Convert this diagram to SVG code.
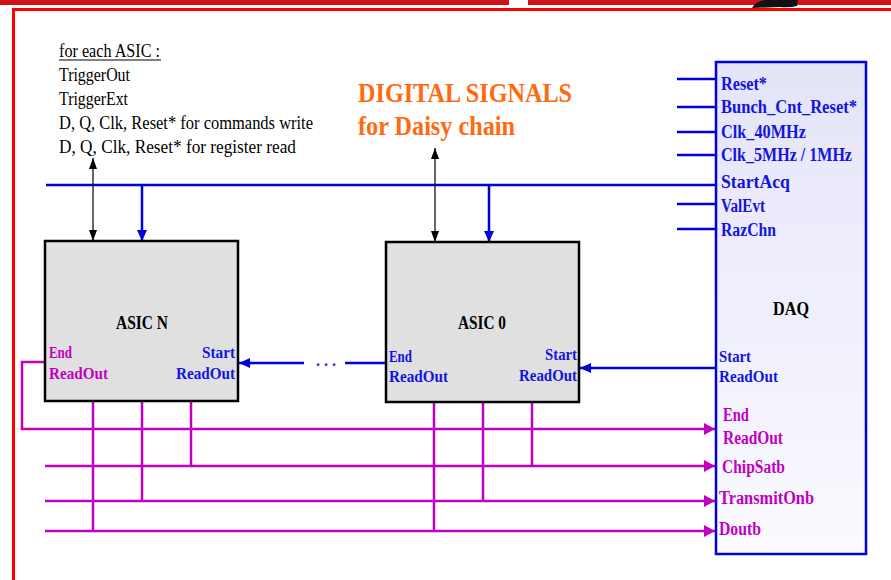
<svg xmlns="http://www.w3.org/2000/svg" width="891" height="580" viewBox="0 0 891 580">
<style>
.t{font-family:"Liberation Serif","Times New Roman",serif;}
.n{font-size:19px;fill:#000;}
.b{font-weight:bold;}
.blu{fill:#1414e0;}
.mag{fill:#c000c0;}
.or{fill:#ff6a10;font-size:28px;}
.box{fill:#e0e0e0;stroke:#000;stroke-width:2.5;}
.bl{stroke:#0000dd;stroke-width:2.5;fill:none;}
.mg{stroke:#c000c0;stroke-width:2.5;fill:none;}
.bk{stroke:#000;stroke-width:1.2;fill:none;}
</style>
<defs>
<linearGradient id="daqg" x1="0" y1="0" x2="0" y2="1">
<stop offset="0" stop-color="#e4e4f9"/>
<stop offset="1" stop-color="#fafaff"/>
</linearGradient>
<marker id="ab" viewBox="0 0 11 10" refX="11" refY="5" markerWidth="11" markerHeight="10" markerUnits="userSpaceOnUse" orient="auto"><path d="M0,0 L11,5 L0,10 Z" fill="#0000dd"/></marker>
<marker id="am" viewBox="0 0 11 12" refX="11" refY="6" markerWidth="11" markerHeight="12" markerUnits="userSpaceOnUse" orient="auto"><path d="M0,0 L11,6 L0,12 Z" fill="#c000c0"/></marker>
<marker id="ak" viewBox="0 0 11 8" refX="11" refY="4" markerWidth="11" markerHeight="8" markerUnits="userSpaceOnUse" orient="auto-start-reverse"><path d="M0,0 L11,4 L0,8 Z" fill="#000"/></marker>
</defs>
<rect width="891" height="580" fill="#fff"/>
<!-- page decoration -->
<rect x="0" y="0" width="509" height="5" fill="#d21418"/>
<rect x="528" y="0" width="363" height="5" fill="#d21418"/>
<path d="M752,8 Q755,1 766,0 L798,0 L797,6 Q790,8 780,7 Z" fill="#111"/>
<path d="M13.5,580 V9.5 H891" fill="none" stroke="#ff0000" stroke-width="3"/>

<!-- notes -->
<g id="notes" class="t n" font-size="20">
<text x="59" y="57" textLength="101" lengthAdjust="spacingAndGlyphs">for each ASIC :</text>
<line x1="59" y1="60" x2="161" y2="60" stroke="#000" stroke-width="1"/>
<text x="59" y="81" textLength="71" lengthAdjust="spacingAndGlyphs">TriggerOut</text>
<text x="59" y="105" textLength="69" lengthAdjust="spacingAndGlyphs">TriggerExt</text>
<text x="59" y="129" textLength="254" lengthAdjust="spacingAndGlyphs">D, Q, Clk, Reset* for commands write</text>
<text x="59" y="153" textLength="237" lengthAdjust="spacingAndGlyphs">D, Q, Clk, Reset* for register read</text>
</g>
<g id="title" class="t b or">
<text x="358" y="102" textLength="214" lengthAdjust="spacingAndGlyphs">DIGITAL SIGNALS</text>
<text x="358" y="135" textLength="157" lengthAdjust="spacingAndGlyphs">for Daisy chain</text>
</g>

<!-- connectors -->
<g id="connectors">
<path class="bl" d="M46,185 H716"/>
<path class="bl" d="M142,185 V241" marker-end="url(#ab)"/>
<path class="bl" d="M489,185 V242" marker-end="url(#ab)"/>
<path class="bl" d="M677,79 H716 M677,107 H716 M677,132 H716 M677,155 H716 M677,204 H716 M677,229 H716"/>
<path class="bl" d="M716,368 H580" marker-end="url(#ab)"/>
<path class="bl" d="M386,363 H345" stroke-width="3"/>
<text x="316" y="366" class="t b blu" font-size="16" letter-spacing="4">...</text>
<path class="bl" d="M304,363 H239" marker-end="url(#ab)"/>
<path class="bk" d="M93,158 V241" marker-start="url(#ak)" marker-end="url(#ak)"/>
<path class="bk" d="M435,148 V242" marker-start="url(#ak)" marker-end="url(#ak)"/>
<path class="mg" d="M45,362 H22 V429 H715" marker-end="url(#am)"/>
<path class="mg" d="M45,466 H715" marker-end="url(#am)"/>
<path class="mg" d="M45,501 H715" marker-end="url(#am)"/>
<path class="mg" d="M45,531 H715" marker-end="url(#am)"/>
<path class="mg" d="M93,402 V531 M142,402 V501 M191,402 V466 M434,403 V531 M483,403 V501 M532,403 V466"/>
</g>

<!-- ASIC N -->
<g id="asic-n">
<rect class="box" x="45" y="241" width="193" height="160"/>
<text class="t b n" x="142" y="329" text-anchor="middle" textLength="52" lengthAdjust="spacingAndGlyphs">ASIC N</text>
<text class="t b mag" font-size="17" x="49" y="358" textLength="23" lengthAdjust="spacingAndGlyphs">End</text>
<text class="t b mag" font-size="17" x="49" y="379" textLength="59" lengthAdjust="spacingAndGlyphs">ReadOut</text>
<text class="t b blu" font-size="17" x="235" y="358" text-anchor="end" textLength="33" lengthAdjust="spacingAndGlyphs">Start</text>
<text class="t b blu" font-size="17" x="235" y="379" text-anchor="end" textLength="59" lengthAdjust="spacingAndGlyphs">ReadOut</text>
</g>

<!-- ASIC 0 -->
<g id="asic-0">
<rect class="box" x="386" y="242" width="193" height="160"/>
<text class="t b n" x="482" y="329" text-anchor="middle" textLength="48" lengthAdjust="spacingAndGlyphs">ASIC 0</text>
<text class="t b blu" font-size="17" x="389" y="362" textLength="23" lengthAdjust="spacingAndGlyphs">End</text>
<text class="t b blu" font-size="17" x="389" y="382" textLength="59" lengthAdjust="spacingAndGlyphs">ReadOut</text>
<text class="t b blu" font-size="17" x="577" y="360" text-anchor="end" textLength="32" lengthAdjust="spacingAndGlyphs">Start</text>
<text class="t b blu" font-size="17" x="577" y="381" text-anchor="end" textLength="58" lengthAdjust="spacingAndGlyphs">ReadOut</text>
</g>

<!-- DAQ -->
<g id="daq">
<rect x="716" y="62" width="150" height="492" fill="url(#daqg)" stroke="#0000dd" stroke-width="2.5"/>
<g class="t b blu" font-size="18">
<text x="721" y="90" textLength="46" lengthAdjust="spacingAndGlyphs">Reset*</text>
<text x="721" y="113" textLength="136" lengthAdjust="spacingAndGlyphs">Bunch_Cnt_Reset*</text>
<text x="721" y="138" textLength="85" lengthAdjust="spacingAndGlyphs">Clk_40MHz</text>
<text x="721" y="161" textLength="131" lengthAdjust="spacingAndGlyphs">Clk_5MHz / 1MHz</text>
<text x="721" y="188" textLength="69" lengthAdjust="spacingAndGlyphs">StartAcq</text>
<text x="721" y="212" textLength="44" lengthAdjust="spacingAndGlyphs">ValEvt</text>
<text x="721" y="236" textLength="55" lengthAdjust="spacingAndGlyphs">RazChn</text>
</g>
<text class="t b n" x="791" y="315" text-anchor="middle" textLength="36" lengthAdjust="spacingAndGlyphs">DAQ</text>
<text class="t b blu" font-size="17" x="719" y="362" textLength="32" lengthAdjust="spacingAndGlyphs">Start</text>
<text class="t b blu" font-size="17" x="719" y="382" textLength="59" lengthAdjust="spacingAndGlyphs">ReadOut</text>
<g class="t b mag" font-size="18">
<text x="723" y="421" textLength="26" lengthAdjust="spacingAndGlyphs">End</text>
<text x="723" y="444" textLength="60" lengthAdjust="spacingAndGlyphs">ReadOut</text>
<text x="722" y="473" textLength="63" lengthAdjust="spacingAndGlyphs">ChipSatb</text>
<text x="719" y="504" textLength="95" lengthAdjust="spacingAndGlyphs">TransmitOnb</text>
<text x="719" y="535" textLength="42" lengthAdjust="spacingAndGlyphs">Doutb</text>
</g>
</g>
</svg>
